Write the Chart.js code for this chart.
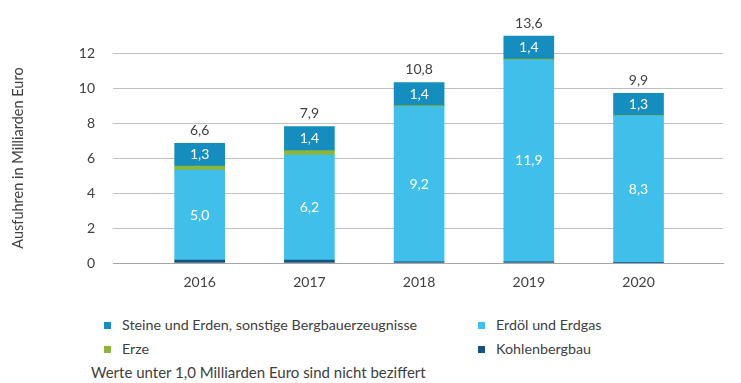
<!DOCTYPE html>
<html>
<head>
<meta charset="utf-8">
<script src="https://cdn.jsdelivr.net/npm/chart.js@4/dist/chart.umd.min.js"></script>
<style>
  html, body { margin: 0; padding: 0; background: #fff; }
  #wrap { position: relative; width: 741px; height: 383px; font-family: Lato, "Open Sans", sans-serif; color: #404040; }
  #c { position: absolute; left: 0; top: 0; }
  .lg { position: absolute; font-size: 14.3px; line-height: 16px; white-space: nowrap; }
  .fn { font-size: 15px; }
  .sw { position: absolute; width: 7px; height: 7px; }
</style>
</head>
<body>
<div id="wrap">
  <canvas id="c" width="741" height="300"></canvas>
  <div id="legend"></div>
</div>
<script>
// ---- data ----
const years = [2016, 2017, 2018, 2019, 2020];
const kohlenbergbau = [0.17, 0.17, 0.07, 0.07, 0.02];
const erdoelErdgas = [5.14, 6.0, 8.87, 11.53, 8.38];
const erze = [0.23, 0.25, 0.05, 0.05, 0.03];
const steineErden = [1.30, 1.37, 1.32, 1.31, 1.26];
const steineLabels = ["1,3", "1,4", "1,4", "1,4", "1,3"];
const erdoelLabels = ["5,0", "6,2", "9,2", "11,9", "8,3"];
const totalLabels = ["6,6", "7,9", "10,8", "13,6", "9,9"];
const yTicks = [0, 2, 4, 6, 8, 10, 12];
const seriesNames = ["Kohlenbergbau", "Erdöl und Erdgas", "Erze", "Steine und Erden, sonstige Bergbauerzeugnisse"];
const colors = ["#17517e", "#41bfeb", "#8db53c", "#168dbf"];
const footnote = "Werte unter 1,0 Milliarden Euro sind nicht beziffert";

const FONT = 'Lato, "Open Sans", sans-serif';
const TXT = '#404040';

const seriesData = [kohlenbergbau, erdoelErdgas, erze, steineErden];
const datasets = seriesData.map((arr, i) => ({
  label: seriesNames[i],
  data: years.map((y, j) => ({ x: y, y: arr[j] })),
  backgroundColor: colors[i],
  borderWidth: 0,
  barThickness: 50,
  clip: false
}));

const labelPlugin = {
  id: 'labels',
  afterDatasetsDraw(chart) {
    const ctx = chart.ctx;
    ctx.save();
    ctx.font = '14px ' + FONT;
    ctx.textAlign = 'center';
    ctx.textBaseline = 'middle';
    const inner = [[1, erdoelLabels], [3, steineLabels]];
    inner.forEach(([di, labs]) => {
      const meta = chart.getDatasetMeta(di);
      meta.data.forEach((bar, j) => {
        const p = bar.getProps(['x', 'y', 'base'], true);
        ctx.fillStyle = '#ffffff';
        ctx.fillText(labs[j], p.x, (p.y + p.base) / 2);
      });
    });
    const top = chart.getDatasetMeta(3);
    top.data.forEach((bar, j) => {
      const p = bar.getProps(['x', 'y'], true);
      ctx.fillStyle = TXT;
      ctx.fillText(totalLabels[j], p.x, p.y - 13);
    });
    ctx.restore();
  }
};

new Chart(document.getElementById('c'), {
  type: 'bar',
  data: { datasets },
  plugins: [labelPlugin],
  options: {
    responsive: false,
    animation: false,
    layout: { padding: { top: 53, right: 18, left: 0, bottom: 0 } },
    plugins: { legend: { display: false }, tooltip: { enabled: false } },
    scales: {
      x: {
        type: 'linear',
        stacked: true,
        offset: false,
        min: 2015.21,
        max: 2020.77,
        grid: { display: false },
        border: { display: true, color: '#a6a6a6', width: 1 },
        afterBuildTicks(scale) { scale.ticks = years.map(v => ({ value: v })); },
        afterFit(scale) { scale.height = 37; },
        ticks: {
          padding: 3,
          color: TXT,
          font: { size: 14, family: FONT },
          callback: (v) => String(v)
        }
      },
      y: {
        stacked: true,
        min: 0,
        max: 12,
        afterBuildTicks(scale) { scale.ticks = yTicks.map(v => ({ value: v })); },
        afterFit(scale) { scale.width = 113; },
        grid: { color: '#bfbfbf', lineWidth: 1, drawTicks: false },
        border: { display: false },
        ticks: { padding: 18, color: TXT, font: { size: 14, family: FONT } },
        title: {
          display: true,
          text: 'Ausfuhren in Milliarden Euro',
          color: TXT,
          font: { size: 14.5, family: FONT },
          padding: { top: 10, bottom: 0 }
        }
      }
    }
  }
});

// ---- HTML legend ----
const legendOrder = [3, 1, 2, 0];
const colX = [104, 478];
const rowY = [325, 349];
const lg = document.getElementById('legend');
legendOrder.forEach((si, k) => {
  const col = k % 2, row = Math.floor(k / 2);
  const sw = document.createElement('div');
  sw.className = 'sw';
  sw.style.background = colors[si];
  sw.style.left = colX[col] + 'px';
  sw.style.top = (rowY[row] - 3.5) + 'px';
  lg.appendChild(sw);
  const t = document.createElement('div');
  t.className = 'lg';
  t.textContent = seriesNames[si];
  t.style.left = (colX[col] + 18) + 'px';
  t.style.top = (rowY[row] - 8) + 'px';
  lg.appendChild(t);
});
const fn = document.createElement('div');
fn.className = 'lg fn';
fn.textContent = footnote;
fn.style.left = '91px';
fn.style.top = (372 - 8) + 'px';
lg.appendChild(fn);
</script>
</body>
</html>
